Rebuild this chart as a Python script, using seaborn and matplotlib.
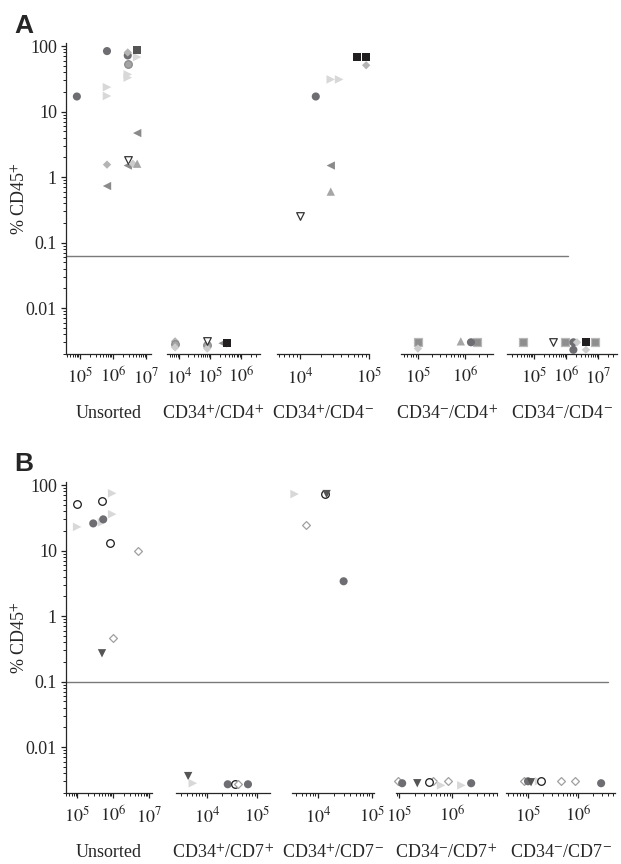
import numpy as np
import pandas as pd
import seaborn as sns
import matplotlib.pyplot as plt
from matplotlib.ticker import FixedLocator, FixedFormatter, LogLocator, FuncFormatter, NullFormatter

sns.set_style('ticks')
plt.rcParams['font.family'] = ['Liberation Serif', 'DejaVu Serif']
plt.rcParams['mathtext.fontset'] = 'stix'

# ---- data: (marker kind, cell number, % CD45+) per sorted fraction ----
a_groups = ['Unsorted', 'CD34$^{+}$/CD4$^{+}$', 'CD34$^{+}$/CD4$^{-}$',
            'CD34$^{-}$/CD4$^{+}$', 'CD34$^{-}$/CD4$^{-}$']
b_groups = ['Unsorted', 'CD34$^{+}$/CD7$^{+}$', 'CD34$^{+}$/CD7$^{-}$',
            'CD34$^{-}$/CD7$^{+}$', 'CD34$^{-}$/CD7$^{-}$']
a_cutoff = 0.063
b_cutoff = 0.1

a_unsorted = [
    ('dk_circle', 8.1e4, 17), ('dk_circle', 6.6e5, 84),
    ('lt_right', 6.6e5, 23.6), ('lt_right', 6.6e5, 17.3),
    ('md_diamond', 6.6e5, 1.55), ('gr_left', 6.6e5, 0.73),
    ('md_diamond', 2.8e6, 80), ('dk_circle', 2.8e6, 72), ('md_circle', 2.8e6, 53),
    ('lt_right', 2.8e6, 37), ('lt_right', 2.8e6, 33),
    ('open_down', 2.8e6, 1.85), ('gr_left', 2.8e6, 1.5),
    ('lt_diamond', 4.0e6, 1.6), ('gr_up', 5.4e6, 1.6), ('gr_left', 5.4e6, 4.7),
    ('dk_square', 5.4e6, 88), ('lt_right', 5.4e6, 68),
]
a_cd4_pp = [
    ('md_diamond', 7.4e3, 0.0031), ('md_circle', 7.4e3, 0.0028), ('lt_diamond', 7.4e3, 0.0025),
    ('open_down', 8e4, 0.0031), ('md_circle', 8e4, 0.0027), ('lt_diamond', 8e4, 0.0024),
    ('gr_left', 2.5e5, 0.0029), ('bk_square', 3.5e5, 0.0029),
]
a_cd4_pm = [
    ('open_down', 1e4, 0.25), ('dk_circle', 1.7e4, 17),
    ('lt_right', 2.8e4, 31), ('lt_right', 3.7e4, 31),
    ('gr_left', 2.8e4, 1.5), ('gr_up', 2.8e4, 0.6),
    ('bk_square', 6.7e4, 68), ('bk_square', 9.1e4, 68), ('md_diamond', 9.1e4, 51),
]
a_cd4_mp = [
    ('gr_square', 1e5, 0.003), ('lt_diamond', 1e5, 0.0024),
    ('gr_up', 8.2e5, 0.0031), ('dk_circle', 1.35e6, 0.003), ('gr_square', 1.8e6, 0.003),
]
a_cd4_mm = [
    ('gr_square', 4.5e4, 0.003), ('open_down', 3.9e5, 0.003), ('gr_square', 9.3e5, 0.003),
    ('dk_circle', 1.7e6, 0.003), ('dk_circle', 1.7e6, 0.0023), ('lt_diamond', 2.2e6, 0.003),
    ('bk_square', 4.2e6, 0.003), ('lt_diamond', 4.2e6, 0.0023), ('gr_square', 8.1e6, 0.003),
]

b_unsorted = [
    ('open_circle', 1e5, 51), ('lt_right', 1e5, 23), ('dk_circle', 2.8e5, 26),
    ('open_circle', 4.9e5, 57), ('lt_right', 4.9e5, 27), ('dk_circle', 5.3e5, 30),
    ('dk_down', 4.9e5, 0.27), ('open_circle', 8.3e5, 13),
    ('lt_right', 9.4e5, 75), ('lt_right', 9.4e5, 36),
    ('open_diamond', 1e6, 0.46), ('open_diamond', 4.9e6, 10),
]
b_cd7_pp = [
    ('dk_down', 4.2e3, 0.0036), ('lt_right', 5.2e3, 0.0028),
    ('dk_circle', 2.6e4, 0.0027), ('open_circle', 3.6e4, 0.0027),
    ('open_diamond', 4.2e4, 0.0027), ('dk_circle', 6.6e4, 0.0027),
]
b_cd7_pm = [
    ('lt_right', 3.7e3, 73), ('open_diamond', 6e3, 25),
    ('open_circle', 1.35e4, 73), ('dk_down', 1.45e4, 73), ('dk_circle', 3e4, 3.4),
]
b_cd7_mp = [
    ('open_diamond', 9.6e4, 0.003), ('dk_circle', 1.14e5, 0.0028), ('dk_down', 2.2e5, 0.0028),
    ('open_circle', 3.7e5, 0.0029), ('open_diamond', 4.4e5, 0.003), ('lt_right', 6.2e5, 0.0026),
    ('open_diamond', 8.4e5, 0.003), ('lt_right', 1.5e6, 0.0026), ('dk_circle', 2.3e6, 0.0028),
]
b_cd7_mm = [
    ('open_diamond', 8.3e4, 0.003), ('dk_circle', 1e5, 0.003), ('dk_down', 1.15e5, 0.0029),
    ('lt_right', 1.66e5, 0.003), ('open_circle', 1.8e5, 0.003), ('open_diamond', 4.6e5, 0.003),
    ('open_diamond', 8.7e5, 0.003), ('dk_circle', 2.9e6, 0.0028),
]

# ---- marker styles: marker, face, edge, size ----
styles = {
    'dk_circle':    ('o', '#6d6d72', 'none', 34),
    'md_circle':    ('o', '#a4a4a4', '#8a8a8a', 30),
    'open_circle':  ('o', 'white', '#1a1a1a', 30),
    'lt_right':     ('>', '#d8d8d8', 'none', 38),
    'gr_left':      ('<', '#8a8a8a', 'none', 36),
    'gr_up':        ('^', '#a6a6a6', 'none', 36),
    'open_down':    ('v', 'white', '#333333', 30),
    'dk_down':      ('v', '#555555', 'none', 36),
    'md_diamond':   ('D', '#b4b4b4', 'none', 18),
    'lt_diamond':   ('D', '#cccccc', 'none', 18),
    'open_diamond': ('D', 'white', '#a0a0a0', 16),
    'bk_square':    ('s', '#221f20', 'none', 30),
    'dk_square':    ('s', '#555555', 'none', 30),
    'gr_square':    ('s', '#8e8e8e', '#b8b8b8', 28),
}

W, H = 621, 864
# segment pixel extents and log10 x-limits
a_px = [(66, 151), (167, 260), (277, 369), (401, 493), (507, 617)]
a_xlim = [(4.58, 7.15), (3.61, 6.6), (3.67, 5.0), (4.64, 6.6), (4.16, 7.59)]
b_px = [(66, 152), (176, 270), (292, 374), (396, 497), (506, 615)]
b_xlim = [(4.69, 7.08), (3.38, 5.26), (3.52, 5.04), (4.94, 6.85), (4.56, 6.74)]

ylim = (0.002, 110)

fig = plt.figure(figsize=(W / 100, H / 100), dpi=100)


def draw_panel(segments, groups, pxs, xlims, top, bottom, cutoff, line_end, letter, letter_y):
    axes = []
    for i, (seg, grp, (l, r), (x0, x1)) in enumerate(zip(segments, groups, pxs, xlims)):
        ax = fig.add_axes([l / W, 1 - bottom / H, (r - l) / W, (bottom - top) / H])
        ax.set_facecolor('none')
        df = pd.DataFrame(seg, columns=['kind', 'cells', 'pct'])
        for kind, sub in df.groupby('kind', sort=False):
            m, fc, ec, s = styles[kind]
            sns.scatterplot(data=sub, x='cells', y='pct', marker=m, color=fc,
                            edgecolor=ec, linewidth=0.9 if ec != 'none' else 0,
                            s=s, ax=ax, legend=False, clip_on=False, zorder=3)
        ax.set_xscale('log')
        ax.set_yscale('log')
        ax.set_xlim(10 ** x0, 10 ** x1)
        ax.set_ylim(*ylim)
        ax.xaxis.set_major_locator(LogLocator(base=10, numticks=20))
        ax.xaxis.set_minor_locator(LogLocator(base=10, subs=np.arange(2, 10), numticks=100))
        ax.xaxis.set_major_formatter(FuncFormatter(lambda v, p: r'$10^{%d}$' % round(np.log10(v))))
        ax.xaxis.set_minor_formatter(NullFormatter())
        ax.yaxis.set_major_locator(FixedLocator([0.01, 0.1, 1, 10, 100]))
        ax.yaxis.set_major_formatter(FixedFormatter(['0.01', '0.1', '1', '10', '100']))
        ax.yaxis.set_minor_locator(LogLocator(base=10, subs=np.arange(2, 10), numticks=100))
        ax.yaxis.set_minor_formatter(NullFormatter())
        ax.tick_params(which='major', direction='out', length=3.5, width=0.9,
                       labelsize=13, pad=3, color='#222222')
        ax.tick_params(which='minor', direction='out', length=2, width=0.7, color='#222222')
        ax.tick_params(axis='x', which='major', pad=6)
        for side in ['top', 'right']:
            ax.spines[side].set_visible(False)
        ax.spines['bottom'].set_linewidth(0.9)
        ax.spines['left'].set_linewidth(0.9)
        if i > 0:
            ax.spines['left'].set_visible(False)
            ax.tick_params(axis='y', which='both', left=False, labelleft=False)
        ax.set_xlabel(grp, fontsize=13, labelpad=13)
        ax.set_ylabel('')
        axes.append(ax)

    # threshold line across all segments
    ax0 = axes[0]
    l0, r0 = pxs[0]
    ax0.plot([0, (line_end - l0) / (r0 - l0)], [cutoff, cutoff], transform=ax0.get_yaxis_transform(),
             color='#7a7a7a', lw=1.0, clip_on=False, zorder=1)
    fig.text(20 / W, 1 - (top + bottom) / 2 / H, r'% CD45$^{+}$', rotation=90,
             ha='center', va='center', fontsize=13)
    fig.text(14 / W, 1 - letter_y / H, letter, fontsize=19, fontweight='bold',
             family='Liberation Sans', va='baseline', ha='left')


draw_panel([a_unsorted, a_cd4_pp, a_cd4_pm, a_cd4_mp, a_cd4_mm], a_groups, a_px, a_xlim,
           43.4, 353.8, a_cutoff, 568, 'A', 33)
draw_panel([b_unsorted, b_cd7_pp, b_cd7_pm, b_cd7_mp, b_cd7_mm], b_groups, b_px, b_xlim,
           482.4, 792.8, b_cutoff, 608, 'B', 471)

fig.savefig('out.png', dpi=100)
